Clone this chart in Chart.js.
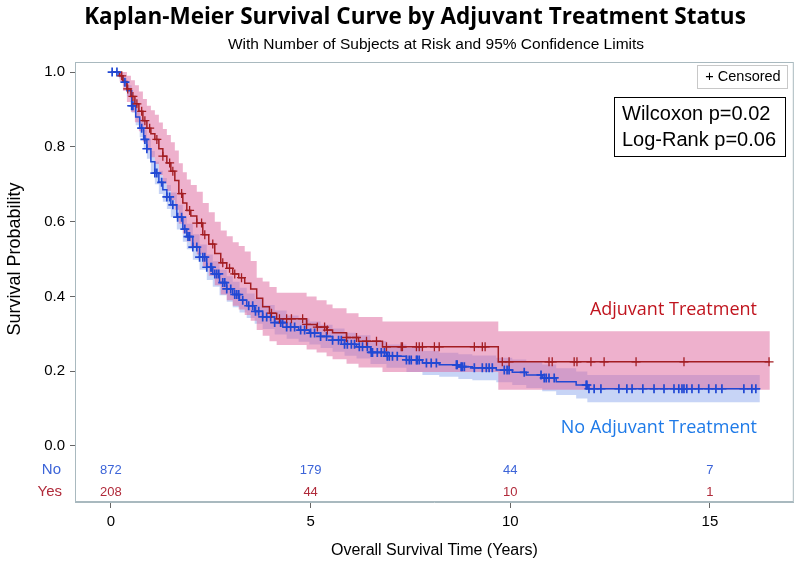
<!DOCTYPE html>
<html>
<head>
<meta charset="utf-8">
<script src="https://cdn.jsdelivr.net/npm/chart.js@4.4.0/dist/chart.umd.min.js"></script>
<style>
  html, body { margin: 0; padding: 0; background: #fff; }
</style>
</head>
<body>
<canvas id="kmChart" width="800" height="565"></canvas>
<script>
// Adjuvant treatment = Yes
const yesTimes = [0, 0.22, 0.3, 0.4, 0.5, 0.6, 0.7, 0.8, 0.9, 1.0, 1.1, 1.2, 1.3, 1.4, 1.5, 1.6, 1.7, 1.8, 1.9, 2.0, 2.15, 2.3, 2.45, 2.6, 2.75, 2.9, 3.05, 3.2, 3.35, 3.5, 3.65, 3.8, 3.97, 4.15, 4.9, 5.15, 5.4, 5.55, 5.9, 6.2, 6.8, 9.7, 16.5];
const yesSurv = [1.0, 0.99, 0.975, 0.955, 0.935, 0.915, 0.895, 0.87, 0.85, 0.835, 0.82, 0.795, 0.775, 0.757, 0.735, 0.71, 0.675, 0.65, 0.63, 0.615, 0.596, 0.565, 0.54, 0.515, 0.49, 0.475, 0.46, 0.45, 0.435, 0.42, 0.395, 0.372, 0.355, 0.34, 0.325, 0.318, 0.31, 0.303, 0.29, 0.28, 0.265, 0.225, 0.225];
const yesLower = [1.0, 0.975, 0.95, 0.92, 0.893, 0.866, 0.842, 0.812, 0.79, 0.772, 0.754, 0.725, 0.702, 0.682, 0.658, 0.632, 0.594, 0.568, 0.547, 0.532, 0.512, 0.48, 0.455, 0.43, 0.405, 0.39, 0.375, 0.365, 0.35, 0.335, 0.31, 0.295, 0.28, 0.27, 0.258, 0.25, 0.24, 0.232, 0.22, 0.21, 0.198, 0.15, 0.15];
const yesUpper = [1.0, 1.0, 1.0, 0.99, 0.978, 0.965, 0.948, 0.928, 0.91, 0.898, 0.886, 0.865, 0.848, 0.832, 0.812, 0.79, 0.756, 0.732, 0.713, 0.698, 0.68, 0.65, 0.625, 0.6, 0.576, 0.561, 0.545, 0.535, 0.52, 0.495, 0.45, 0.44, 0.425, 0.41, 0.4, 0.39, 0.378, 0.368, 0.355, 0.345, 0.333, 0.307, 0.307];
const yesCensored = [0.27, 0.42, 0.55, 0.65, 0.77, 0.85, 0.97, 1.15, 1.3, 1.47, 1.55, 1.77, 1.97, 2.15, 2.27, 2.35, 2.55, 2.8, 2.97, 3.1, 3.27, 4.02, 4.22, 4.4, 4.52, 4.8, 4.9, 5.17, 5.35, 5.42, 5.9, 6.15, 6.4, 6.65, 6.9, 7.27, 7.3, 7.65, 7.72, 7.8, 8.1, 8.22, 9.1, 9.3, 9.37, 9.8, 9.97, 10.97, 11.05, 11.6, 11.67, 12.02, 12.35, 13.15, 14.35, 16.48];

// Adjuvant treatment = No
const noTimes = [0, 0.2, 0.3, 0.4, 0.52, 0.62, 0.72, 0.82, 0.9, 1.0, 1.1, 1.2, 1.3, 1.4, 1.5, 1.65, 1.8, 1.9, 2.05, 2.22, 2.4, 2.55, 2.72, 2.9, 3.05, 3.22, 3.4, 3.6, 3.8, 4.1, 4.4, 4.7, 4.97, 5.25, 5.55, 5.85, 6.15, 6.5, 6.9, 7.4, 7.8, 8.22, 8.7, 9.05, 9.65, 10.05, 10.4, 10.8, 11.15, 11.65, 11.93, 16.25];
const noSurv = [1.0, 0.99, 0.973, 0.95, 0.91, 0.88, 0.85, 0.82, 0.795, 0.76, 0.73, 0.705, 0.685, 0.666, 0.645, 0.612, 0.58, 0.56, 0.532, 0.505, 0.478, 0.46, 0.437, 0.42, 0.405, 0.39, 0.375, 0.36, 0.345, 0.33, 0.318, 0.31, 0.302, 0.293, 0.283, 0.272, 0.265, 0.25, 0.24, 0.23, 0.222, 0.217, 0.212, 0.209, 0.203, 0.197, 0.19, 0.182, 0.172, 0.163, 0.153, 0.153];
const noLower = [1.0, 0.983, 0.962, 0.935, 0.891, 0.858, 0.826, 0.794, 0.768, 0.731, 0.7, 0.674, 0.653, 0.634, 0.612, 0.579, 0.546, 0.526, 0.498, 0.471, 0.444, 0.426, 0.403, 0.386, 0.371, 0.357, 0.342, 0.327, 0.313, 0.298, 0.287, 0.279, 0.271, 0.262, 0.252, 0.241, 0.234, 0.219, 0.209, 0.198, 0.19, 0.185, 0.179, 0.176, 0.17, 0.163, 0.155, 0.146, 0.136, 0.127, 0.117, 0.117];
const noUpper = [1.0, 0.997, 0.984, 0.965, 0.929, 0.902, 0.874, 0.846, 0.822, 0.789, 0.76, 0.736, 0.717, 0.698, 0.678, 0.645, 0.614, 0.594, 0.566, 0.539, 0.512, 0.494, 0.471, 0.454, 0.439, 0.423, 0.408, 0.393, 0.377, 0.362, 0.349, 0.341, 0.333, 0.324, 0.314, 0.303, 0.296, 0.281, 0.271, 0.262, 0.254, 0.249, 0.245, 0.242, 0.236, 0.231, 0.225, 0.218, 0.208, 0.199, 0.19, 0.19];
const noCensored = [0.03, 0.15, 0.35, 0.52, 0.55, 0.77, 0.85, 0.9, 1.1, 1.15, 1.27, 1.4, 1.47, 1.55, 1.67, 1.77, 1.85, 1.93, 1.97, 2.05, 2.15, 2.22, 2.3, 2.35, 2.4, 2.5, 2.52, 2.6, 2.65, 2.7, 2.8, 2.85, 2.9, 3.0, 3.1, 3.15, 3.2, 3.3, 3.45, 3.55, 3.62, 3.7, 3.8, 3.9, 4.0, 4.1, 4.25, 4.3, 4.4, 4.5, 4.6, 4.75, 4.85, 5.0, 5.1, 5.25, 5.4, 5.55, 5.7, 5.77, 5.85, 5.92, 6.02, 6.1, 6.22, 6.3, 6.42, 6.52, 6.55, 6.67, 6.77, 6.85, 6.92, 6.97, 7.05, 7.17, 7.4, 7.47, 7.52, 7.65, 7.67, 7.72, 7.9, 8.02, 8.15, 8.65, 8.67, 8.77, 8.8, 8.85, 9.1, 9.3, 9.4, 9.47, 9.55, 9.85, 9.92, 9.97, 10.35, 10.77, 10.85, 10.9, 10.97, 11.1, 11.9, 11.92, 11.97, 12.1, 12.27, 12.72, 12.92, 13.05, 13.32, 13.6, 13.85, 14.1, 14.22, 14.3, 14.35, 14.42, 14.55, 14.72, 14.97, 15.15, 15.3, 15.85, 16.05, 16.15];

// subjects at risk
const riskTimes = [0, 5, 10, 15];
const riskNo = [872, 179, 44, 7];
const riskYes = [208, 44, 10, 1];

const xTicks = [0, 5, 10, 15];
const yTicks = [0, 0.2, 0.4, 0.6, 0.8, 1.0];

const ARIAL = "'Liberation Sans', Arial, sans-serif";
const SOFT = "'Open Sans', 'Noto Sans', sans-serif";
const FRAME = '#a9b9bf';
const RED = '#a31d22';
const BLUE = '#2148d4';

const toXY = (times, vals) => times.map((t, i) => ({ x: t, y: vals[i] }));

// survival value of a step curve at time t
function stepAt(times, vals, t) {
    let v = vals[0];
    for (let i = 0; i < times.length; i++) {
        if (times[i] <= t) v = vals[i];
    }
    return v;
}

const annotate = {
    id: 'annotate',
    afterDraw(chart) {
        const { ctx, chartArea: a, scales: { x, y } } = chart;
        ctx.save();
        ctx.strokeStyle = FRAME;
        ctx.lineWidth = 1;
        ctx.strokeRect(a.left + 0.5, a.top + 0.5, a.width - 1, a.height - 1);

        ctx.textBaseline = 'middle';
        ctx.textAlign = 'center';
        ctx.fillStyle = '#000';
        ctx.font = 'bold 22.5px ' + SOFT;
        ctx.fillText('Kaplan-Meier Survival Curve by Adjuvant Treatment Status', 415, 18);
        ctx.font = '15.5px ' + ARIAL;
        ctx.fillText('With Number of Subjects at Risk and 95% Confidence Limits', 436, 45);

        // y axis title, centred on the 0..1 range
        ctx.save();
        ctx.translate(15, (y.getPixelForValue(0) + y.getPixelForValue(1)) / 2);
        ctx.rotate(-Math.PI / 2);
        ctx.font = '18px ' + ARIAL;
        ctx.fillText('Survival Probability', 0, 0);
        ctx.restore();

        // at-risk table
        ctx.font = '13px ' + ARIAL;
        riskTimes.forEach((t, i) => {
            const px = x.getPixelForValue(t);
            ctx.fillStyle = '#3c64d8';
            ctx.fillText(String(riskNo[i]), px, 470);
            ctx.fillStyle = '#b02a3a';
            ctx.fillText(String(riskYes[i]), px, 492);
        });
        ctx.textAlign = 'right';
        ctx.font = '15px ' + ARIAL;
        ctx.fillStyle = '#3c64d8';
        ctx.fillText('No', 61, 470);
        ctx.fillStyle = '#b02a3a';
        ctx.fillText('Yes', 62, 492);

        // curve labels
        ctx.font = '18px ' + SOFT;
        ctx.fillStyle = '#c0141e';
        ctx.fillText('Adjuvant Treatment', 757, 310);
        ctx.fillStyle = '#1e7ae8';
        ctx.fillText('No Adjuvant Treatment', 757, 428);

        // censored legend
        ctx.strokeStyle = '#c8c8c8';
        ctx.strokeRect(697.5, 65.5, 90, 23);
        ctx.textAlign = 'center';
        ctx.fillStyle = '#000';
        ctx.font = '14.5px ' + ARIAL;
        ctx.fillText('+ Censored', 743, 77);

        // test statistics
        ctx.strokeStyle = '#000';
        ctx.strokeRect(614.5, 97.5, 171, 59);
        ctx.textAlign = 'left';
        ctx.font = '20px ' + ARIAL;
        ctx.fillText('Wilcoxon p=0.02', 622, 114);
        ctx.fillText('Log-Rank p=0.06', 622, 140);
        ctx.restore();
    }
};

const ctx = document.getElementById('kmChart').getContext('2d');

new Chart(ctx, {
    type: 'line',
    data: {
        datasets: [
            {
                label: 'Yes censored',
                data: yesCensored.map(t => ({ x: t, y: stepAt(yesTimes, yesSurv, t) })),
                showLine: false,
                pointStyle: 'cross',
                pointRadius: 4.5,
                borderColor: RED,
                borderWidth: 1.3
            },
            {
                label: 'No censored',
                data: noCensored.map(t => ({ x: t, y: stepAt(noTimes, noSurv, t) })),
                showLine: false,
                pointStyle: 'cross',
                pointRadius: 4.5,
                borderColor: BLUE,
                borderWidth: 1.7
            },
            {
                label: 'Yes',
                data: toXY(yesTimes, yesSurv),
                stepped: true,
                borderColor: RED,
                borderWidth: 1.5,
                pointRadius: 0
            },
            {
                label: 'No',
                data: toXY(noTimes, noSurv),
                stepped: true,
                borderColor: BLUE,
                borderWidth: 1.5,
                pointRadius: 0
            },
            {
                label: 'Yes lower',
                data: toXY(yesTimes, yesLower),
                stepped: true,
                borderWidth: 0,
                pointRadius: 0
            },
            {
                label: 'Yes upper',
                data: toXY(yesTimes, yesUpper),
                stepped: true,
                borderWidth: 0,
                pointRadius: 0,
                fill: '-1',
                backgroundColor: 'rgba(222, 100, 155, 0.5)'
            },
            {
                label: 'No lower',
                data: toXY(noTimes, noLower),
                stepped: true,
                borderWidth: 0,
                pointRadius: 0
            },
            {
                label: 'No upper',
                data: toXY(noTimes, noUpper),
                stepped: true,
                borderWidth: 0,
                pointRadius: 0,
                fill: '-1',
                backgroundColor: 'rgba(130, 160, 235, 0.45)'
            }
        ]
    },
    options: {
        responsive: false,
        animation: false,
        layout: { padding: { top: 62, right: 5, left: 0, bottom: 0 } },
        scales: {
            x: {
                type: 'linear',
                min: -0.9,
                max: 17.1,
                afterBuildTicks: s => { s.ticks = xTicks.map(v => ({ value: v })); },
                afterFit: s => { s.height = 63; },
                ticks: { color: '#000', font: { family: ARIAL, size: 15 }, padding: 5 },
                grid: { drawOnChartArea: false, tickLength: 6, color: '#666' },
                border: { color: FRAME },
                title: {
                    display: true,
                    text: 'Overall Survival Time (Years)',
                    color: '#000',
                    font: { family: ARIAL, size: 16 },
                    padding: { top: 6, bottom: 5 }
                }
            },
            y: {
                min: -0.15,
                max: 1.027,
                afterBuildTicks: s => { s.ticks = yTicks.map(v => ({ value: v })); },
                afterFit: s => { s.width = 75; },
                ticks: { color: '#000', font: { family: ARIAL, size: 15 }, padding: 5, callback: v => v.toFixed(1) },
                grid: { drawOnChartArea: false, tickLength: 5, color: '#666' },
                border: { color: FRAME }
            }
        },
        plugins: {
            legend: { display: false },
            tooltip: { enabled: false }
        }
    },
    plugins: [annotate]
});
</script>
</body>
</html>
